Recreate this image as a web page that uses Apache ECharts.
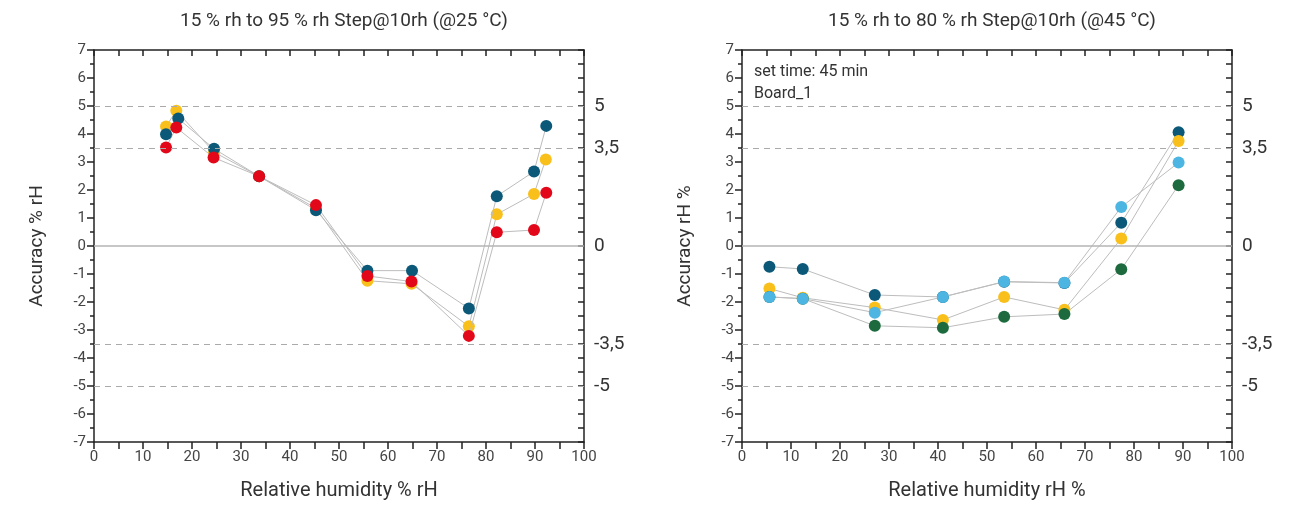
<!DOCTYPE html>
<html>
<head>
<meta charset="utf-8">
<script src="https://cdn.jsdelivr.net/npm/echarts@6/dist/echarts.min.js"></script>
<style>
  html, body { margin: 0; padding: 0; background: #fff; }
  #chart { width: 1313px; height: 506px; }
</style>
</head>
<body>
<div id="chart"></div>
<script>
// left chart (@25 °C)
var leftYellowX = [14.7, 16.8, 24.5, 33.7, 45.3, 55.8, 64.8, 76.5, 82.2, 89.8, 92.2];
var leftYellowY = [4.27, 4.83, 3.35, 2.49, 1.35, -1.24, -1.35, -2.87, 1.13, 1.86, 3.09];
var leftBlueX = [14.7, 17.2, 24.5, 33.7, 45.3, 55.8, 64.9, 76.5, 82.2, 89.8, 92.3];
var leftBlueY = [3.99, 4.55, 3.47, 2.49, 1.28, -0.88, -0.88, -2.23, 1.78, 2.66, 4.29];
var leftRedX = [14.7, 16.8, 24.4, 33.7, 45.3, 55.8, 64.8, 76.5, 82.2, 89.8, 92.3];
var leftRedY = [3.52, 4.23, 3.16, 2.49, 1.46, -1.07, -1.27, -3.21, 0.49, 0.57, 1.90];

// right chart (@45 °C)
var rightX = [5.6, 12.4, 27.1, 41.0, 53.5, 65.8, 77.4, 89.1];
var rightBlueY = [-0.74, -0.82, -1.75, -1.82, -1.28, -1.32, 0.83, 4.06];
var rightYellowY = [-1.52, -1.85, -2.2, -2.64, -1.82, -2.28, 0.27, 3.75];
var rightGreenY = [-1.82, -1.88, -2.85, -2.92, -2.53, -2.43, -0.83, 2.17];
var rightLightY = [-1.82, -1.88, -2.38, -1.82, -1.27, -1.31, 1.39, 2.98];

var limitLines = [5, 3.5, -3.5, -5];
var rightLabels = [5, 3.5, 0, -3.5, -5];

var FONT = 'Roboto';
var TXT = '#333';
var AX = '#222';

function zip(xs, ys) {
  return xs.map(function (x, i) { return [x, ys[i]]; });
}

var chart = echarts.init(document.getElementById('chart'));

function xAxes(gi, name) {
  return [
    {
      gridIndex: gi, type: 'value', min: 0, max: 100, interval: 5, position: 'bottom',
      name: name, nameLocation: 'middle', nameGap: 39,
      nameTextStyle: { fontFamily: FONT, fontSize: 20, color: TXT },
      axisLine: { onZero: false, lineStyle: { color: AX, width: 1.5 } },
      axisTick: { length: 7, lineStyle: { color: AX, width: 1.5 } },
      axisLabel: {
        fontFamily: FONT, fontSize: 15, color: '#444', margin: 8,
        formatter: function (v) { return v % 10 === 0 ? v : ''; }
      },
      splitLine: { show: false }
    },
    {
      gridIndex: gi, type: 'value', min: 0, max: 100, interval: 5, position: 'top',
      axisLine: { onZero: false, lineStyle: { color: AX, width: 1.5 } },
      axisTick: { inside: true, length: 6, lineStyle: { color: AX, width: 1.5 } },
      axisLabel: { show: false },
      splitLine: { show: false }
    }
  ];
}

function yAxes(gi, name) {
  return [
    {
      gridIndex: gi, type: 'value', min: -7, max: 7, interval: 1, position: 'left',
      name: name, nameLocation: 'middle', nameGap: 47,
      nameTextStyle: { fontFamily: FONT, fontSize: 19, color: TXT },
      axisLine: { onZero: false, lineStyle: { color: AX, width: 1.5 } },
      axisTick: { length: 7, lineStyle: { color: AX, width: 1.5 } },
      minorTick: { show: true, splitNumber: 2, length: 4, lineStyle: { color: AX, width: 1.5 } },
      axisLabel: { fontFamily: FONT, fontSize: 15, color: '#444', margin: 8 },
      splitLine: { show: false }
    },
    {
      gridIndex: gi, type: 'value', min: -7, max: 7, interval: 0.5, position: 'right',
      axisLine: { onZero: false, lineStyle: { color: AX, width: 1.5 } },
      axisTick: { inside: true, length: 6, lineStyle: { color: AX, width: 1.5 } },
      axisLabel: {
        fontFamily: FONT, fontSize: 19, color: TXT, margin: 10,
        formatter: function (v) {
          return rightLabels.indexOf(v) >= 0 ? String(v).replace('.', ',') : '';
        }
      },
      splitLine: { show: false }
    }
  ];
}

function refLines() {
  var d = limitLines.map(function (v) {
    return { yAxis: v, lineStyle: { type: [6, 5], color: '#aaa', width: 1 } };
  });
  d.push({ yAxis: 0, lineStyle: { type: 'solid', color: '#b5b5b5', width: 1.5 } });
  return {
    silent: true, symbol: 'none', label: { show: false }, animation: false,
    data: d
  };
}

function ser(xi, yi, pts, color, withLines) {
  var s = {
    type: 'line', xAxisIndex: xi, yAxisIndex: yi, data: pts,
    symbol: 'circle', symbolSize: 12,
    itemStyle: { color: color },
    lineStyle: { color: '#bdbdbd', width: 1 },
    z: 3
  };
  if (withLines) {
    s.markLine = refLines();
    s.z = 2;
  }
  return s;
}

var option = {
  animation: false,
  backgroundColor: '#fff',
  title: [
    { text: '15 % rh to 95 % rh Step@10rh (@25 °C)', left: 339, top: 7, textAlign: 'center',
      textStyle: { fontFamily: FONT, fontSize: 19, fontWeight: 'normal', color: TXT } },
    { text: '15 % rh to 80 % rh Step@10rh (@45 °C)', left: 987, top: 7, textAlign: 'center',
      textStyle: { fontFamily: FONT, fontSize: 19, fontWeight: 'normal', color: TXT } }
  ],
  grid: [
    { left: 94, right: 729, top: 50, bottom: 62 },
    { left: 742, right: 81, top: 50, bottom: 62 }
  ],
  xAxis: xAxes(0, 'Relative humidity % rH').concat(xAxes(1, 'Relative humidity rH %')),
  yAxis: yAxes(0, 'Accuracy % rH').concat(yAxes(1, 'Accuracy rH %')),
  graphic: [
    { type: 'text', left: 754, top: 64,
      style: { text: 'set time: 45 min', font: '16px ' + FONT, fill: TXT } },
    { type: 'text', left: 754, top: 86,
      style: { text: 'Board_1', font: '16px ' + FONT, fill: TXT } }
  ],
  series: [
    ser(0, 0, zip(leftYellowX, leftYellowY), '#f9bf1b', true),
    ser(0, 0, zip(leftBlueX, leftBlueY), '#0b5878', false),
    ser(0, 0, zip(leftRedX, leftRedY), '#e2081a', false),
    ser(2, 2, zip(rightX, rightBlueY), '#0b5878', true),
    ser(2, 2, zip(rightX, rightYellowY), '#f9bf1b', false),
    ser(2, 2, zip(rightX, rightGreenY), '#1c6a3d', false),
    ser(2, 2, zip(rightX, rightLightY), '#4db5e1', false)
  ]
};

chart.setOption(option);
</script>
</body>
</html>
